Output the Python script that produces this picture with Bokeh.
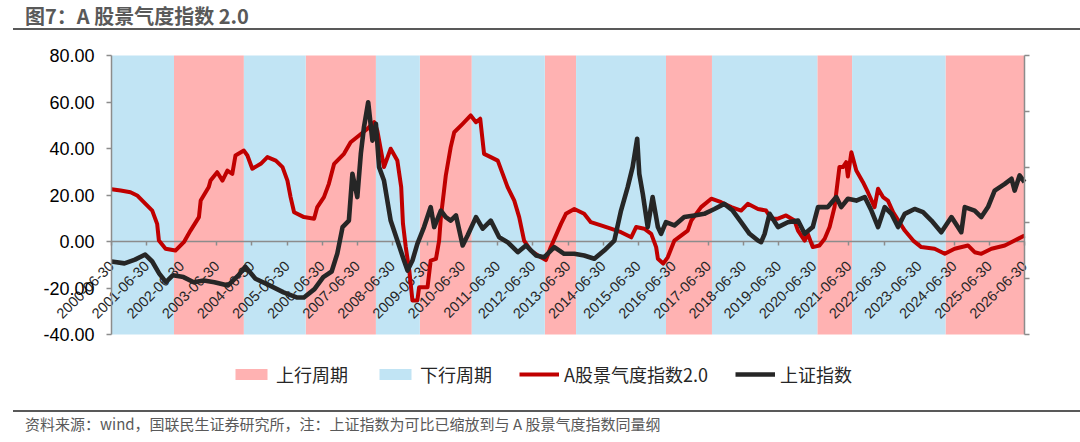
import math
from bokeh.plotting import figure
from bokeh.models import (Range1d, LinearAxis, FixedTicker, NumeralTickFormatter,
                          CustomJSTickFormatter, Legend, LegendItem, Div)
from bokeh.layouts import column
from bokeh.embed import file_html
from bokeh.resources import INLINE

TITLE = "图7：A 股景气度指数 2.0"
SOURCE = "资料来源：wind，国联民生证券研究所，注：上证指数为可比已缩放到与 A 股景气度指数同量纲"

# x positions are fractional years
TICK_POS = [2000.5, 2001.5, 2002.5, 2003.5, 2004.5, 2005.5, 2006.5, 2007.5, 2008.5,
            2009.5, 2010.5, 2011.5, 2012.5, 2013.5, 2014.5, 2015.5, 2016.5, 2017.5,
            2018.5, 2019.5, 2020.5, 2021.5, 2022.5, 2023.5, 2024.5, 2025.5, 2026.5]
TICK_LABELS = ["2000-06-30", "2001-06-30", "2002-06-30", "2003-06-30", "2004-06-30",
               "2005-06-30", "2006-06-30", "2007-06-30", "2008-06-30", "2009-06-30",
               "2010-06-30", "2011-06-30", "2012-06-30", "2013-06-30", "2014-06-30",
               "2015-06-30", "2016-06-30", "2017-06-30", "2018-06-30", "2019-06-30",
               "2020-06-30", "2021-06-30", "2022-06-30", "2023-06-30", "2024-06-30",
               "2025-06-30", "2026-06-30"]
Y_TICKS = [-40, -20, 0, 20, 40, 60, 80]

CYCLE_START = [2000.50, 2002.28, 2004.27, 2006.03, 2008.03, 2009.28, 2010.76,
               2012.84, 2013.73, 2016.29, 2017.60, 2020.60, 2021.59, 2024.25]
CYCLE_END = [2002.28, 2004.27, 2006.03, 2008.03, 2009.28, 2010.76, 2012.84,
             2013.73, 2016.29, 2017.60, 2020.60, 2021.59, 2024.25, 2026.50]
CYCLE_TYPE = ["下行", "上行", "下行", "上行", "下行", "上行", "下行",
              "上行", "下行", "上行", "下行", "上行", "下行", "上行"]

IDX_T = [2000.50, 2000.76, 2001.04, 2001.23, 2001.42, 2001.66, 2001.80, 2001.85, 2002.04, 2002.32,
         2002.56, 2002.75, 2002.99, 2003.04, 2003.27, 2003.32, 2003.51, 2003.66, 2003.80, 2003.94,
         2004.03, 2004.27, 2004.37, 2004.51, 2004.75, 2004.94, 2005.18, 2005.37, 2005.51, 2005.60,
         2005.70, 2005.98, 2006.27, 2006.36, 2006.55, 2006.69, 2006.84, 2007.12, 2007.31, 2007.55,
         2007.79, 2007.98, 2008.07, 2008.26, 2008.45, 2008.64, 2008.75, 2008.80, 2008.88, 2008.98,
         2009.07, 2009.21, 2009.26, 2009.50, 2009.59, 2009.74, 2009.83, 2009.88, 2009.97, 2010.02,
         2010.16, 2010.26, 2010.50, 2010.73, 2010.88, 2011.00, 2011.11, 2011.30, 2011.50, 2011.64,
         2011.78, 2011.97, 2012.11, 2012.25, 2012.44, 2012.73, 2012.87, 2013.01, 2013.30, 2013.44,
         2013.68, 2013.96, 2014.15, 2014.44, 2014.72, 2015.01, 2015.30, 2015.44, 2015.67, 2015.87,
         2016.01, 2016.06, 2016.21, 2016.34, 2016.53, 2016.91, 2017.01, 2017.29, 2017.58, 2017.86,
         2018.15, 2018.43, 2018.62, 2018.91, 2019.14, 2019.29, 2019.48, 2019.71, 2019.95, 2020.05,
         2020.24, 2020.33, 2020.47, 2020.66, 2020.81, 2020.95, 2021.09, 2021.23, 2021.33, 2021.42,
         2021.47, 2021.57, 2021.71, 2021.90, 2022.04, 2022.23, 2022.33, 2022.47, 2022.61, 2022.76,
         2022.94, 2023.09, 2023.33, 2023.56, 2023.94, 2024.23, 2024.51, 2024.89, 2025.08, 2025.27,
         2025.56, 2025.94, 2026.22, 2026.50]
IDX_V = [22.5, 21.9, 21.2, 19.8, 16.9, 13.3, 7.6, 0.4, -3.1, -3.9,
         -0.3, 4.7, 10.5, 17.6, 23.4, 26.2, 29.8, 26.2, 30.5, 29.1,
         37.0, 39.1, 37.0, 31.3, 33.4, 36.3, 34.8, 32.0, 26.2, 19.1,
         12.6, 10.5, 9.8, 14.8, 19.1, 24.8, 33.4, 37.7, 42.7, 45.6,
         48.5, 51.3, 47.7, 32.0, 39.9, 34.8, 23.4, 7.7, -2.4, -12.5,
         -25.4, -25.4, -19.7, -19.7, -8.2, -7.5, 0.4, 10.5, 21.9, 28.4,
         40.6, 47.0, 50.6, 54.2, 51.3, 52.8, 37.7, 36.3, 34.8, 29.1,
         23.4, 17.6, 10.5, 0.4, -3.9, -6.8, -8.0, -2.4, 7.6, 11.9,
         14.0, 11.9, 8.3, 6.9, 5.5, 4.0, 1.8, 6.2, 5.5, 3.3,
         -2.4, -7.4, -9.5, -6.8, 0.4, 4.7, 9.0, 14.8, 18.4, 16.9,
         14.8, 13.3, 16.2, 14.0, 13.3, 9.8, 9.8, 11.2, 9.0, 4.7,
         0.4, 3.3, -2.4, -1.7, 1.2, 6.2, 14.8, 32.0, 32.0, 34.1,
         28.0, 38.4, 30.5, 25.5, 21.2, 14.8, 22.7, 19.1, 17.6, 12.6,
         8.3, 4.7, 0.4, -2.4, -3.1, -5.3, -3.1, -1.7, -4.6, -5.3,
         -3.1, -1.7, 0.4, 2.6]

SH_T = [2000.50, 2000.87, 2001.17, 2001.46, 2001.66, 2001.86, 2002.05, 2002.25, 2002.55, 2002.84,
        2003.13, 2003.43, 2003.82, 2004.12, 2004.31, 2004.60, 2005.00, 2005.40, 2005.79, 2005.98,
        2006.28, 2006.53, 2006.77, 2006.93, 2007.08, 2007.26, 2007.36, 2007.50, 2007.60, 2007.69,
        2007.81, 2007.93, 2008.03, 2008.12, 2008.26, 2008.45, 2008.64, 2008.83, 2008.93, 2009.07,
        2009.21, 2009.40, 2009.59, 2009.69, 2009.88, 2010.02, 2010.16, 2010.31, 2010.50, 2010.64,
        2010.88, 2011.07, 2011.30, 2011.54, 2011.78, 2012.07, 2012.30, 2012.59, 2012.82, 2013.11,
        2013.39, 2013.68, 2013.96, 2014.25, 2014.53, 2014.82, 2015.01, 2015.20, 2015.34, 2015.47,
        2015.53, 2015.63, 2015.77, 2015.91, 2016.06, 2016.15, 2016.29, 2016.53, 2016.81, 2017.10,
        2017.38, 2017.67, 2017.95, 2018.19, 2018.43, 2018.67, 2018.91, 2019.00, 2019.10, 2019.24,
        2019.48, 2019.76, 2020.05, 2020.24, 2020.47, 2020.62, 2020.90, 2021.14, 2021.28, 2021.47,
        2021.71, 2021.95, 2022.14, 2022.33, 2022.52, 2022.71, 2022.90, 2023.09, 2023.37, 2023.61,
        2023.85, 2024.13, 2024.42, 2024.70, 2024.80, 2025.08, 2025.27, 2025.46, 2025.65, 2025.94,
        2026.13, 2026.22, 2026.36, 2026.50]
SH_V = [-8.6, -9.4, -7.8, -5.6, -8.6, -13.8, -17.5, -14.5, -15.3, -17.5,
        -16.8, -17.5, -18.9, -14.5, -10.8, -16.0, -18.9, -21.9, -24.1, -24.1,
        -20.5, -15.3, -12.9, -5.2, 6.2, 9.0, 29.1, 19.1, 37.7, 49.2,
        59.9, 43.4, 50.6, 32.0, 26.2, 9.0, 0.4, -8.2, -12.5, -8.2,
        -1.0, 6.2, 14.8, 6.2, 13.3, 10.5, 9.0, 11.2, -1.7, 2.6,
        10.5, 5.5, 9.0, 1.8, -0.3, -4.6, -1.7, -6.0, -6.8, -2.4,
        -5.3, -5.3, -6.0, -7.4, -3.9, 0.4, 13.3, 23.4, 32.0, 44.2,
        29.1, 20.5, 6.2, 19.1, 6.2, 3.3, 8.3, 6.9, 10.5, 11.2,
        11.9, 14.0, 16.2, 13.3, 8.3, 3.3, 0.4, -0.3, 3.3, 11.9,
        6.2, 8.3, 9.0, 3.3, 6.2, 14.8, 14.8, 19.1, 14.8, 18.4,
        17.6, 19.1, 13.3, 6.2, 14.8, 11.9, 6.2, 11.9, 14.0, 12.6,
        9.0, 4.0, 10.5, 4.0, 14.8, 13.3, 10.5, 14.8, 21.9, 24.8,
        27.0, 21.9, 28.4, 25.5]

UP_COLOR = "#FFB2B2"
DOWN_COLOR = "#C1E4F4"
RED = "#C00000"
BLACK = "#262626"
AXIS_GRAY = "#8C8C8C"
CJK = "Noto Sans CJK SC"
LATIN = "Liberation Sans"

Y_MIN, Y_MAX = Y_TICKS[0], Y_TICKS[-1]
X_MIN, X_MAX = TICK_POS[0], TICK_POS[-1]

# layout (pixels inside the plot canvas): the frame covers the whole canvas, and
# the data box sits inside it so that axis labels and legend are never clipped
PW, PH = 1080, 371
BOX_L, BOX_R, BOX_T, BOX_B = 111, 1024, 24, 303
sx = (BOX_R - BOX_L) / (X_MAX - X_MIN)
sy = (BOX_B - BOX_T) / (Y_MAX - Y_MIN)
x_range = Range1d(X_MIN - BOX_L / sx, X_MAX + (PW - BOX_R) / sx)
y_range = Range1d(Y_MIN - (PH - BOX_B) / sy, Y_MAX + BOX_T / sy)

p = figure(width=PW, height=PH, x_range=x_range, y_range=y_range,
           output_backend="svg", toolbar_location=None,
           x_axis_location=None, y_axis_location=None,
           min_border_left=0, min_border_right=0, min_border_top=0, min_border_bottom=0)
p.outline_line_color = None
p.xgrid.visible = False
p.ygrid.visible = False
p.background_fill_color = "white"
p.border_fill_color = "white"

up_l = [s for s, t in zip(CYCLE_START, CYCLE_TYPE) if t == "上行"]
up_r = [e for e, t in zip(CYCLE_END, CYCLE_TYPE) if t == "上行"]
dn_l = [s for s, t in zip(CYCLE_START, CYCLE_TYPE) if t == "下行"]
dn_r = [e for e, t in zip(CYCLE_END, CYCLE_TYPE) if t == "下行"]

r_up = p.quad(left=up_l, right=up_r, bottom=Y_MIN, top=Y_MAX, fill_color=UP_COLOR,
              line_color=None, level="image")
r_dn = p.quad(left=dn_l, right=dn_r, bottom=Y_MIN, top=Y_MAX, fill_color=DOWN_COLOR,
              line_color=None, level="image")

r_idx = p.line(IDX_T, IDX_V, line_color=RED, line_width=4, line_join="round")
r_sh = p.line(SH_T, SH_V, line_color=BLACK, line_width=4.6, line_join="round")


def style_axis(ax, tick_out):
    ax.axis_line_color = AXIS_GRAY
    ax.axis_line_width = 1.5
    ax.major_tick_line_color = AXIS_GRAY
    ax.major_tick_line_width = 1.5
    ax.major_tick_out = tick_out
    ax.major_tick_in = 0
    ax.minor_tick_line_color = None


# category-like x axis drawn on the zero line (under the series lines)
xaxis = LinearAxis(ticker=FixedTicker(ticks=TICK_POS),
                   formatter=CustomJSTickFormatter(args=dict(labels=TICK_LABELS, start=X_MIN),
                                                   code="return labels[Math.round(tick - start)]"),
                   fixed_location=0, bounds=(X_MIN, X_MAX))
style_axis(xaxis, 4)
xaxis.level = "underlay"
xaxis.major_label_orientation = math.pi / 4
xaxis.major_label_standoff = 18
xaxis.major_label_text_font = LATIN
xaxis.major_label_text_font_size = "14.5px"
xaxis.major_label_text_color = BLACK
p.add_layout(xaxis, "below")

yaxis = LinearAxis(ticker=FixedTicker(ticks=Y_TICKS), formatter=NumeralTickFormatter(format="0.00"),
                   fixed_location=X_MIN, bounds=(Y_MIN, Y_MAX))
style_axis(yaxis, 5)
yaxis.major_label_standoff = 12
yaxis.major_label_text_font = LATIN
yaxis.major_label_text_font_size = "18px"
yaxis.major_label_text_color = "#000000"
p.add_layout(yaxis, "left")

# secondary (unlabelled) axis on the right: five equal intervals
R_TICKS = [Y_MIN + k * (Y_MAX - Y_MIN) / 5 for k in range(6)]
raxis = LinearAxis(ticker=FixedTicker(ticks=R_TICKS), formatter=CustomJSTickFormatter(code="return ''"),
                   fixed_location=X_MAX, bounds=(Y_MIN, Y_MAX))
style_axis(raxis, 5)
p.add_layout(raxis, "right")

legend = Legend(items=[LegendItem(label="上行周期", renderers=[r_up]),
                       LegendItem(label="下行周期", renderers=[r_dn]),
                       LegendItem(label="A股景气度指数2.0", renderers=[r_idx]),
                       LegendItem(label="上证指数", renderers=[r_sh])],
                orientation="horizontal", location=(231, 15),
                label_text_font=CJK, label_text_font_size="18px", label_text_color=BLACK,
                glyph_width=40, glyph_height=14, label_standoff=5, spacing=27,
                padding=0, margin=0, border_line_color=None, background_fill_alpha=0)
p.add_layout(legend)

title_div = Div(text=(
    '<div style="margin-top:8px;margin-left:13px;width:1067px;height:22px;box-sizing:border-box;'
    'border-bottom:2px solid #595959;padding-left:12px;font-family:\'Noto Sans CJK SC\';'
    'font-weight:bold;font-size:20px;line-height:16px;color:#595959;white-space:nowrap;">'
    + TITLE + '</div>'), width=1080, height=31, margin=0)

footer_div = Div(text=(
    '<div style="margin-top:8px;margin-left:13px;width:1067px;box-sizing:border-box;'
    'border-top:2px solid #595959;padding-left:12px;padding-top:2px;'
    'font-family:\'Noto Sans CJK SC\';font-size:15px;line-height:20px;color:#595959;'
    'white-space:nowrap;">' + SOURCE + '</div>'), width=1080, height=40, margin=0)

p.margin = 0
layout = column(title_div, p, footer_div, spacing=0)
layout.margin = 0

open("out.html", "w").write(file_html(layout, INLINE))
